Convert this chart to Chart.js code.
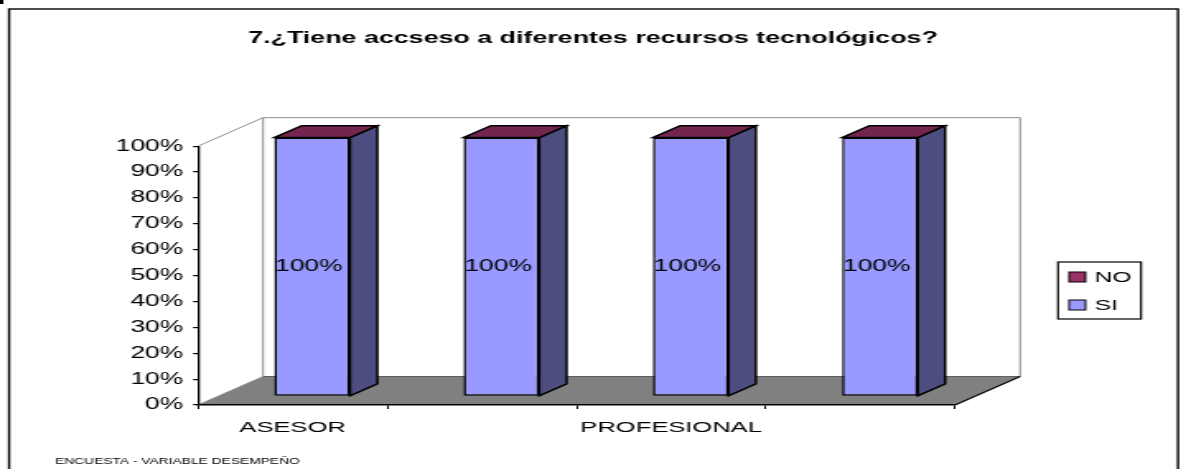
<!DOCTYPE html>
<html><head><meta charset="utf-8">
<script src="https://cdn.jsdelivr.net/npm/chart.js@4.4.1/dist/chart.umd.min.js"></script>
<style>
html,body{margin:0;padding:0;background:#fff;overflow:hidden}
#c{display:block;width:1186px !important;height:469px !important}
</style>
</head><body>
<canvas id="c" width="720" height="469" style="width:1186px;height:469px"></canvas>
<script>
// ---- data ----
const titleText = '7.¿Tiene accseso a diferentes recursos tecnológicos?';
const footerText = 'ENCUESTA - VARIABLE DESEMPEÑO';
const categories = ['ASESOR', '', 'PROFESIONAL', ''];
const seriesNames = ['SI', 'NO'];
const siValues = [100, 100, 100, 100];
const noValues = [0, 0, 0, 0];
const yMin = 0, yMax = 100, yStep = 10;
const tickLabel = v => v + '%';

// ---- style ----
const FONT = '"Liberation Sans", Arial, sans-serif';
const DEPTH_X = 39.5, DEPTH_Y = -28.5;   // 3D depth of the plot box
const BAR_START = 0.3, BAR_DEPTH = 0.42; // bar position inside the depth
const faceColors = {
  SI: { front: '#9999FF', side: '#4D4D80', top: '#6B6BB3' },
  NO: { front: '#993366', side: '#6B2447', top: '#73264D' }
};

const threeD = {
  id: 'threeD',
  beforeDraw(chart) {
    const { ctx, chartArea: a } = chart;
    ctx.save();
    // outer frame
    ctx.strokeStyle = '#000'; ctx.lineWidth = 1.4;
    ctx.strokeRect(5.5, 9, 709.6, 520);
    ctx.fillStyle = '#000'; ctx.fillRect(0, 0, 2, 4);
    // floor
    ctx.fillStyle = '#808080';
    ctx.beginPath();
    ctx.moveTo(a.left, a.bottom); ctx.lineTo(a.right, a.bottom);
    ctx.lineTo(a.right + DEPTH_X, a.bottom + DEPTH_Y); ctx.lineTo(a.left + DEPTH_X, a.bottom + DEPTH_Y);
    ctx.closePath(); ctx.fill();
    // walls
    ctx.strokeStyle = '#8c8c8c'; ctx.lineWidth = 1;
    ctx.beginPath();
    ctx.moveTo(a.left, a.top); ctx.lineTo(a.left + DEPTH_X, a.top + DEPTH_Y);
    ctx.lineTo(a.right + DEPTH_X, a.top + DEPTH_Y); ctx.lineTo(a.right + DEPTH_X, a.bottom + DEPTH_Y);
    ctx.moveTo(a.left + DEPTH_X, a.top + DEPTH_Y); ctx.lineTo(a.left + DEPTH_X, a.bottom + DEPTH_Y);
    ctx.moveTo(a.left, a.bottom); ctx.lineTo(a.left + DEPTH_X, a.bottom + DEPTH_Y);
    ctx.stroke();
    ctx.strokeStyle = '#606060';
    ctx.beginPath();
    ctx.moveTo(a.left + DEPTH_X, a.bottom + DEPTH_Y); ctx.lineTo(a.right + DEPTH_X, a.bottom + DEPTH_Y);
    ctx.stroke();
    ctx.strokeStyle = '#000'; ctx.lineWidth = 1.1;
    ctx.beginPath();
    ctx.moveTo(a.right, a.bottom); ctx.lineTo(a.right + DEPTH_X, a.bottom + DEPTH_Y);
    ctx.stroke();
    ctx.restore();
  },
  beforeDatasetsDraw(chart) {
    chart.ctx.save();
    chart.ctx.translate(BAR_START * DEPTH_X, BAR_START * DEPTH_Y);
  },
  afterDatasetsDraw(chart) {
    const ctx = chart.ctx;
    const bx = BAR_DEPTH * DEPTH_X, by = BAR_DEPTH * DEPTH_Y;
    const metas = chart.getSortedVisibleDatasetMetas();
    ctx.lineWidth = 1.5; ctx.strokeStyle = '#000'; ctx.lineJoin = 'miter';
    for (let i = 0; i < chart.data.labels.length; i++) {
      let top = Infinity, left = 0, right = 0, topName = null;
      metas.forEach(m => {
        const p = m.data[i].getProps(['x', 'y', 'base', 'width'], true);
        const name = chart.data.datasets[m.index].label;
        left = p.x - p.width / 2; right = p.x + p.width / 2;
        const y = Math.min(p.y, p.base);
        if (y <= top) { top = y; topName = name; }
        const h = Math.abs(p.base - p.y);
        if (h > 0.5) {
          ctx.fillStyle = faceColors[name].side;
          ctx.beginPath();
          ctx.moveTo(right, Math.min(p.y, p.base)); ctx.lineTo(right + bx, Math.min(p.y, p.base) + by);
          ctx.lineTo(right + bx, Math.max(p.y, p.base) + by); ctx.lineTo(right, Math.max(p.y, p.base));
          ctx.closePath(); ctx.fill(); ctx.stroke();
        }
      });
      // top face, coloured by the topmost series of the stack
      ctx.fillStyle = faceColors[topName].top;
      ctx.beginPath();
      ctx.moveTo(left, top); ctx.lineTo(right, top);
      ctx.lineTo(right + bx, top + by); ctx.lineTo(left + bx, top + by);
      ctx.closePath(); ctx.fill(); ctx.stroke();
      // value labels
      metas.forEach(m => {
        const v = chart.data.datasets[m.index].data[i];
        if (!v) return;
        const p = m.data[i].getProps(['x', 'y', 'base'], true);
        ctx.fillStyle = '#000';
        ctx.font = '16px ' + FONT;
        ctx.textAlign = 'center'; ctx.textBaseline = 'middle';
        ctx.fillText(tickLabel(v), p.x - 2, (p.y + p.base) / 2);
      });
    }
    ctx.restore();
  },
  afterDraw(chart) {
    const ctx = chart.ctx;
    ctx.save();
    // legend (series in reverse stacking order)
    const bxL = 642.3, byT = 262, bw = 50.4, bh = 57;
    ctx.strokeStyle = '#000'; ctx.lineWidth = 1.2;
    ctx.strokeRect(bxL, byT, bw, bh);
    const items = chart.data.datasets.slice().reverse();
    const rowY = [277, 305];
    items.forEach((ds, k) => {
      ctx.fillStyle = ds.backgroundColor;
      ctx.fillRect(649, rowY[k] - 5, 10, 10);
      ctx.lineWidth = 1;
      ctx.strokeRect(649, rowY[k] - 5, 10, 10);
      ctx.fillStyle = '#000';
      ctx.font = '15px ' + FONT;
      ctx.textAlign = 'left'; ctx.textBaseline = 'middle';
      ctx.fillText(ds.label, 664.5, rowY[k] + 0.5);
    });
    // footer
    ctx.font = '8.4px ' + FONT;
    ctx.fillStyle = '#000';
    ctx.textAlign = 'left'; ctx.textBaseline = 'middle';
    ctx.fillText(footerText, 33.4, 462);
    ctx.restore();
  }
};

const canvas = document.getElementById('c');
new Chart(canvas, {
  type: 'bar',
  data: {
    labels: categories,
    datasets: [
      { label: seriesNames[0], data: siValues, backgroundColor: faceColors.SI.front,
        borderColor: '#000', borderWidth: 1.5, borderSkipped: false, clip: false },
      { label: seriesNames[1], data: noValues, backgroundColor: faceColors.NO.front,
        borderColor: '#000', borderWidth: 0, clip: false }
    ]
  },
  options: {
    responsive: false,
    devicePixelRatio: 1,
    animation: false,
    layout: { padding: 0 },
    datasets: { bar: { categoryPercentage: 1, barPercentage: 0.4 } },
    plugins: {
      legend: { display: false },
      tooltip: { enabled: false },
      title: {
        display: true, text: titleText, color: '#000',
        font: { family: FONT, size: 16.3, weight: 'bold' },
        padding: { top: 28.4, bottom: 98.2 }
      }
    },
    scales: {
      x: {
        stacked: true,
        grid: { display: true, drawOnChartArea: false, drawTicks: true, tickLength: 4,
                color: '#000', offset: true, lineWidth: 1 },
        border: { display: true, color: '#000', width: 1.5 },
        ticks: { color: '#000', font: { family: FONT, size: 15.5 }, padding: 9,
                 autoSkip: false, maxRotation: 0 },
        afterFit(s) { s.height = 64; }
      },
      y: {
        stacked: true, min: yMin, max: yMax,
        ticks: { stepSize: yStep, color: '#000', font: { family: FONT, size: 16 },
                 padding: 6, callback: tickLabel },
        grid: { drawOnChartArea: false, tickLength: 3, color: '#000', lineWidth: 1.2 },
        border: { color: '#000', width: 1.3 },
        afterFit(s) { s.width = 120.2; }
      },
      side: {
        position: 'right', display: true,
        grid: { display: false }, border: { display: false }, ticks: { display: false },
        afterFit(s) { s.width = 140.2; }
      }
    }
  },
  plugins: [threeD]
});
canvas.style.width = '1186px';
canvas.style.height = '469px';
</script>
</body></html>
